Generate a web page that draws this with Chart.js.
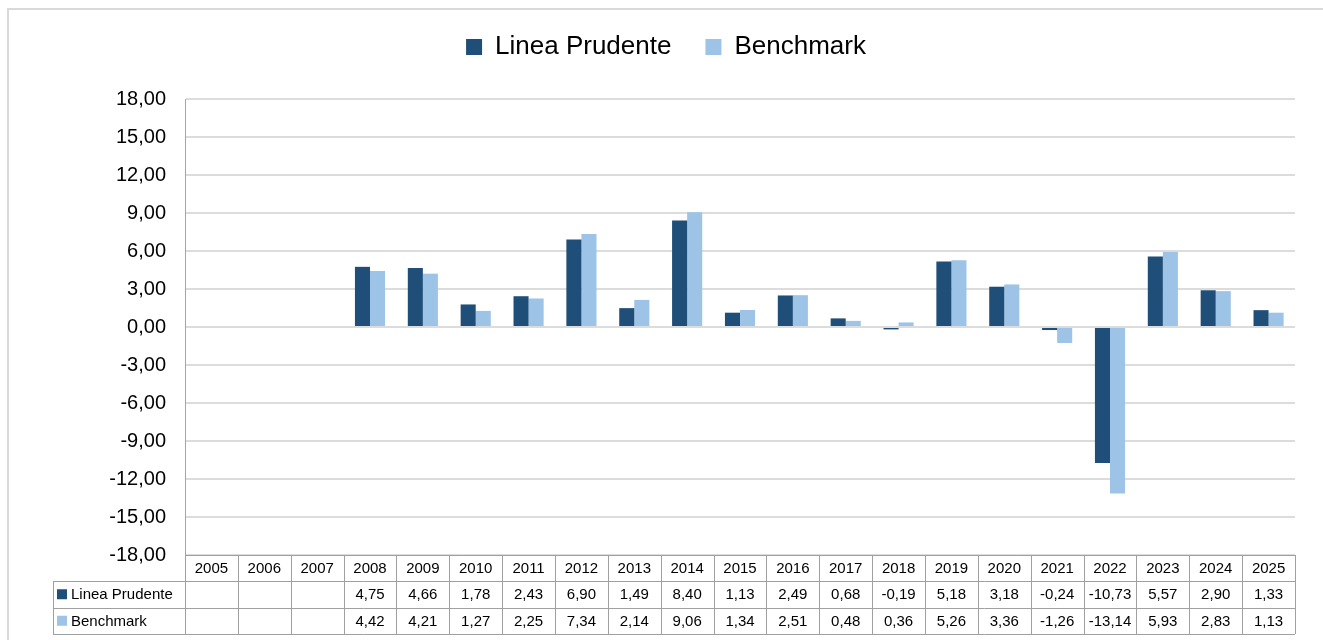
<!DOCTYPE html>
<html lang="es">
<head>
  <meta charset="UTF-8">
  <title>Linea Prudente vs Benchmark</title>
  <script src="https://cdn.jsdelivr.net/npm/chart.js"></script>
</head>
<style>
  body { margin: 0; background: #fff; }
  #wrap { width: 1323px; height: 640px; position: relative; }
</style>
<body>
  <div id="wrap">
    <canvas id="rendChart"></canvas>
  </div>
  <script>
    // Datos
    const anios = ['2005','2006','2007','2008','2009','2010','2011','2012','2013','2014','2015',
                   '2016','2017','2018','2019','2020','2021','2022','2023','2024','2025'];
    const lineaPrudente = [null, null, null, 4.75, 4.66, 1.78, 2.43, 6.90, 1.49, 8.40, 1.13,
                           2.49, 0.68, -0.19, 5.18, 3.18, -0.24, -10.73, 5.57, 2.90, 1.33];
    const benchmark = [null, null, null, 4.42, 4.21, 1.27, 2.25, 7.34, 2.14, 9.06, 1.34,
                       2.51, 0.48, 0.36, 5.26, 3.36, -1.26, -13.14, 5.93, 2.83, 1.13];

    const colorLinea = '#1F4E79';
    const colorBench = '#9DC3E6';
    const fuente = '"Liberation Sans", Arial, sans-serif';

    const fmt = v => v.toFixed(2).replace('.', ',');

    // Marco gris alrededor del grafico
    const marco = {
      id: 'marco',
      beforeDraw(chart) {
        const ctx = chart.ctx;
        ctx.save();
        ctx.fillStyle = '#fff';
        ctx.fillRect(0, 0, chart.width, chart.height);
        ctx.strokeStyle = '#d9d9d9';
        ctx.lineWidth = 2;
        ctx.strokeRect(8, 9, chart.width + 20, chart.height + 20);
        ctx.restore();
      }
    };

    // Altura fija de la leyenda para ubicar el area del grafico
    const alturaLeyenda = {
      id: 'alturaLeyenda',
      beforeInit(chart) {
        const fit = chart.legend.fit;
        chart.legend.fit = function () {
          fit.bind(chart.legend)();
          this.height = 99;
        };
      }
    };

    // Tabla de datos debajo del eje
    const tablaDatos = {
      id: 'tablaDatos',
      afterDraw(chart) {
        const ctx = chart.ctx;
        const x = chart.scales.x;
        const area = chart.chartArea;
        const n = anios.length;
        const ancho = (area.right - area.left) / n;
        const y0 = area.bottom;
        const filas = [y0, y0 + 26, y0 + 52.5, y0 + 79];
        const izq = 53;
        ctx.save();
        ctx.strokeStyle = '#a0a0a0';
        ctx.lineWidth = 1;
        ctx.beginPath();
        // lineas horizontales
        ctx.moveTo(area.left, filas[0] + 0.5); ctx.lineTo(area.right, filas[0] + 0.5);
        for (let r = 1; r < 4; r++) {
          ctx.moveTo(izq, Math.round(filas[r]) + 0.5);
          ctx.lineTo(area.right, Math.round(filas[r]) + 0.5);
        }
        // lineas verticales
        ctx.moveTo(izq + 0.5, filas[1]); ctx.lineTo(izq + 0.5, filas[3]);
        for (let i = 0; i <= n; i++) {
          const xx = Math.round(area.left + i * ancho) + 0.5;
          ctx.moveTo(xx, filas[0]); ctx.lineTo(xx, filas[3]);
        }
        ctx.stroke();

        ctx.font = '15px ' + fuente;
        ctx.fillStyle = '#000';
        ctx.textBaseline = 'middle';
        ctx.textAlign = 'center';
        anios.forEach((a, i) => {
          const cx = x.getPixelForValue(i);
          ctx.fillText(a, cx, (filas[0] + filas[1]) / 2 + 1);
          if (lineaPrudente[i] !== null) ctx.fillText(fmt(lineaPrudente[i]), cx, (filas[1] + filas[2]) / 2 + 1);
          if (benchmark[i] !== null) ctx.fillText(fmt(benchmark[i]), cx, (filas[2] + filas[3]) / 2 + 1);
        });

        // etiquetas de las filas
        const series = [['Linea Prudente', colorLinea], ['Benchmark', colorBench]];
        ctx.textAlign = 'left';
        series.forEach((s, k) => {
          const cy = (filas[k + 1] + filas[k + 2]) / 2;
          ctx.fillStyle = s[1];
          ctx.fillRect(57, cy - 5, 10, 10);
          ctx.fillStyle = '#000';
          ctx.fillText(s[0], 71, cy + 1);
        });
        ctx.restore();
      }
    };

    const ctx = document.getElementById('rendChart').getContext('2d');
    new Chart(ctx, {
      type: 'bar',
      data: {
        labels: anios,
        datasets: [{
          label: 'Linea Prudente',
          data: lineaPrudente,
          backgroundColor: colorLinea,
          barPercentage: 1,
          categoryPercentage: 0.57
        },
        {
          label: 'Benchmark',
          data: benchmark,
          backgroundColor: colorBench,
          barPercentage: 1,
          categoryPercentage: 0.57
        }]
      },
      options: {
        responsive: true,
        maintainAspectRatio: false,
        animation: false,
        layout: { padding: { left: 37, right: 28, top: 0, bottom: 85 } },
        plugins: {
          legend: {
            position: 'top',
            labels: {
              boxWidth: 16,
              boxHeight: 16,
              padding: 34,
              color: '#000',
              font: { family: fuente, size: 26 }
            }
          },
          tooltip: { enabled: false }
        },
        scales: {
          x: { display: false },
          y: {
            min: -18,
            max: 18,
            afterFit(scale) { scale.width = 148; },
            ticks: {
              stepSize: 3,
              padding: 19,
              color: '#000',
              font: { family: fuente, size: 20 },
              callback: v => fmt(v)
            },
            grid: { color: '#dcdcdc', lineWidth: 2, drawTicks: false },
            border: { color: '#a6a6a6', width: 1 }
          }
        }
      },
      plugins: [marco, alturaLeyenda, tablaDatos]
    });
  </script>
</body>
</html>
